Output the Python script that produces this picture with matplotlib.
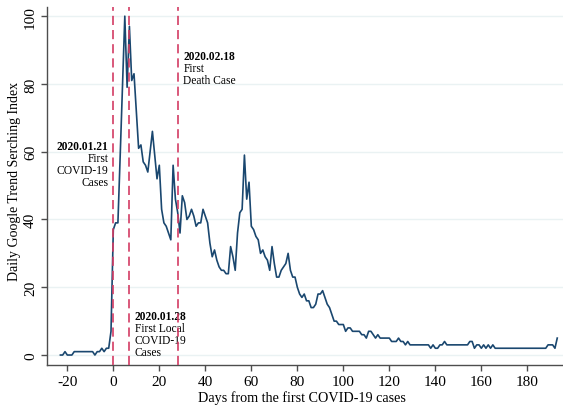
import numpy as np
import matplotlib
matplotlib.use("Agg")
import matplotlib.pyplot as plt

plt.rcParams.update({
    "font.family": "Liberation Serif", "font.size": 11,
    "axes.linewidth": 1.0, "axes.edgecolor": "0.3",
    "axes.unicode_minus": False,
})

# daily Google trend index, day -23 .. 193 relative to first COVID-19 case
days = np.arange(-23, 194)
before_first = [0, 0, 1, 0, 0, 0, 1, 1, 1, 1, 1, 1, 1, 1, 1, 0, 1, 1, 2, 1, 2, 2, 7]
days_0_28 = [37, 39, 39, 59, 80, 100, 79, 97, 81, 83, 72, 61, 62, 57, 56, 54, 60, 66,
             59, 52, 56, 43, 39, 38, 36, 34, 56, 46, 42]
days_29_80 = [36, 47, 45, 40, 41, 43, 41, 38, 39, 39, 43, 41, 39, 33, 29, 31, 28, 26,
              25, 25, 24, 24, 32, 29, 25, 36, 42, 43, 59, 46, 51, 38, 37, 35, 34, 30,
              31, 29, 28, 25, 32, 27, 23, 23, 25, 26, 27, 30, 25, 23, 23, 20]
days_81_119 = [18, 17, 18, 16, 16, 14, 14, 15, 18, 18, 19, 17, 15, 14, 12, 10, 10, 9,
               9, 9, 7, 8, 8, 7, 7, 7, 7, 6, 6, 5, 7, 7, 6, 5, 6, 5, 5, 5, 5]
days_120_193 = [5, 4, 4, 4, 5, 4, 4, 3, 4, 3,
                3, 3, 3, 3, 3, 3, 3, 3,
                2, 3, 2, 2, 3, 3, 4,
                3, 3, 3, 3, 3, 3, 3, 3, 3, 3,
                4, 4, 2, 3, 3, 2, 3, 2, 3, 2, 3,
                2, 2, 2, 2, 2, 2, 2, 2, 2, 2, 2, 2, 2, 2, 2, 2, 2, 2, 2, 2, 2, 2, 2,
                3, 3, 3, 2, 5]
index = np.array(before_first + days_0_28 + days_29_80 + days_81_119 + days_120_193)

event_days = [0, 7, 28]
event_dates = ["2020.01.21", "2020.01.28", "2020.02.18"]
event_text = [["First", "COVID-19", "Cases"],
              ["First Local", "COVID-19", "Cases"],
              ["First", "Death Case"]]

fig = plt.figure(figsize=(5.63, 4.10), dpi=100)
ax = fig.add_axes([0.084, 0.108, 0.916, 0.8725])

ax.grid(axis="y", color="#eaf2f3", lw=1.0)
ax.set_axisbelow(True)
ax.plot(days, index, color="#1a476f", lw=1.2, zorder=3)
for d in event_days:
    ax.axvline(d, color="#d33c64", lw=1.2, dashes=(5.5, 3), zorder=4)

def note(x, y, head, lines, ha):
    ax.text(x, y, head, fontweight="bold", fontsize=8.3, ha=ha, va="center")
    for i, s in enumerate(lines, 1):
        ax.annotate(s, (x, y), xytext=(0, -8.64 * i), textcoords="offset points",
                    fontsize=8.3, ha=ha, va="center")

note(-2.2, 61.7, event_dates[0], event_text[0], "right")
note(9.4, 11.6, event_dates[1], event_text[1], "left")
note(30.4, 88.1, event_dates[2], event_text[2], "left")

ax.set_xlim(-28.7, 195.5)
ax.set_ylim(-2.86, 102.7)
ax.set_xticks(np.arange(-20, 181, 20))
ax.set_yticks(np.arange(0, 101, 20))
ax.tick_params(length=4, width=1, color="0.3", labelsize=11, pad=3.5)
for lab in ax.get_yticklabels():
    lab.set_rotation(90)
    lab.set_va("center")
ax.spines["top"].set_visible(False)
ax.spines["right"].set_visible(False)

ax.set_xlabel("Days from the first COVID-19 cases", fontsize=10.2)
ax.set_ylabel("Daily Google Trend Serching Index", fontsize=10)
ax.xaxis.set_label_coords(0.494, -0.07)
ax.yaxis.set_label_coords(-0.051, 0.516)

fig.savefig("out.png")
